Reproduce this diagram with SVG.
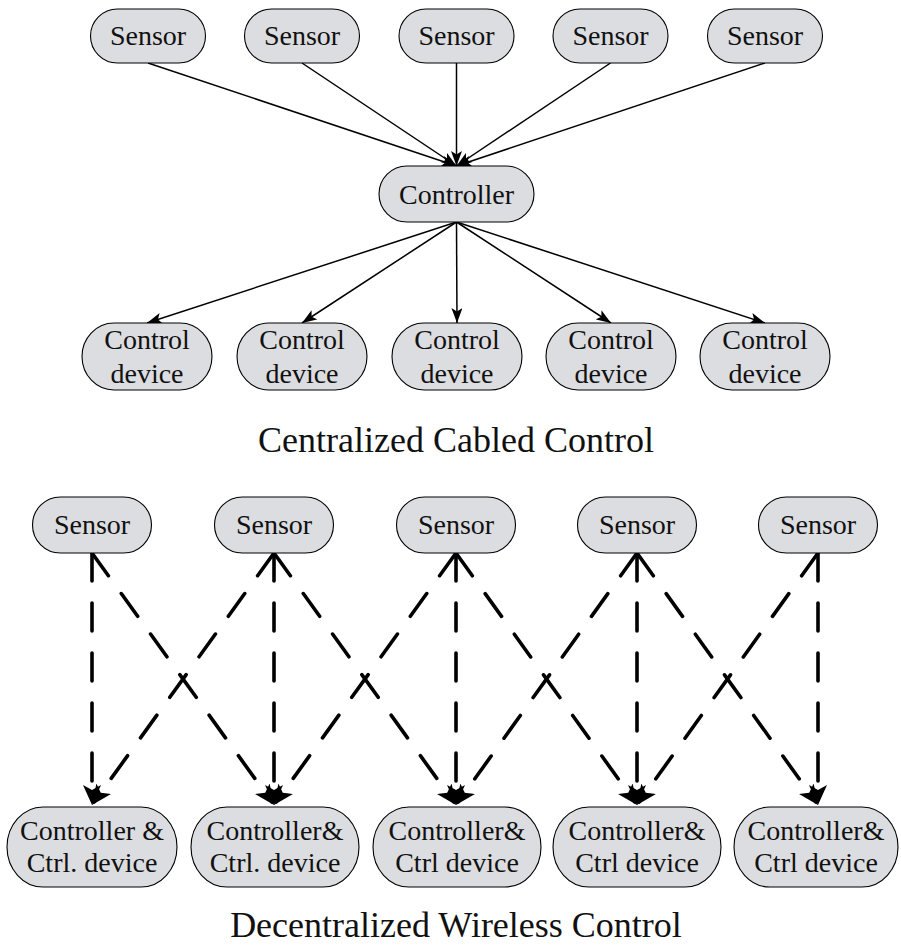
<svg xmlns="http://www.w3.org/2000/svg" width="901" height="951" viewBox="0 0 901 951">
<style>
.node{fill:#dcdde0;stroke:#000;stroke-width:1.1}
.t{font-family:"Liberation Serif","Times New Roman",serif;font-size:28px;text-anchor:middle;fill:#111}
.title{font-family:"Liberation Serif","Times New Roman",serif;font-size:36px;text-anchor:middle;fill:#111}
.thin{fill:none;stroke:#000;stroke-width:1.5}
.thick{fill:none;stroke:#000;stroke-width:3.6;stroke-dasharray:28 22;stroke-linecap:round}
</style>
<defs>
<marker id="ah" viewBox="0 0 15 11" refX="15" refY="5.5" markerWidth="15" markerHeight="11" markerUnits="userSpaceOnUse" orient="auto">
<path d="M0,0 L15,5.5 L0,11 L3.5,5.5 z" fill="#000" stroke="none"/>
</marker>
<marker id="ahb" viewBox="0 0 20 18" refX="16" refY="9" markerWidth="20" markerHeight="18" markerUnits="userSpaceOnUse" orient="auto">
<path d="M0,0 L20,9 L0,18 L5,9 z" fill="#000" stroke="none"/>
</marker>
</defs>
<g id="connectors">
<line class="thin" x1="148" y1="63" x2="456.5" y2="166" marker-end="url(#ah)"/>
<line class="thin" x1="302" y1="63" x2="456.5" y2="166" marker-end="url(#ah)"/>
<line class="thin" x1="456.5" y1="63" x2="456.5" y2="166" marker-end="url(#ah)"/>
<line class="thin" x1="610.5" y1="63" x2="456.5" y2="166" marker-end="url(#ah)"/>
<line class="thin" x1="765" y1="63" x2="456.5" y2="166" marker-end="url(#ah)"/>
<line class="thin" x1="456.5" y1="222" x2="147" y2="323" marker-end="url(#ah)"/>
<line class="thin" x1="456.5" y1="222" x2="302" y2="323" marker-end="url(#ah)"/>
<line class="thin" x1="456.5" y1="222" x2="457" y2="323" marker-end="url(#ah)"/>
<line class="thin" x1="456.5" y1="222" x2="611" y2="323" marker-end="url(#ah)"/>
<line class="thin" x1="456.5" y1="222" x2="765" y2="323" marker-end="url(#ah)"/>
<line class="thick" x1="92" y1="553" x2="92" y2="801" marker-end="url(#ahb)"/>
<line class="thick" x1="92" y1="553" x2="271.66" y2="801.76" marker-end="url(#ahb)"/>
<line class="thick" x1="274" y1="553" x2="94.34" y2="801.76" marker-end="url(#ahb)"/>
<line class="thick" x1="274" y1="553" x2="274" y2="801" marker-end="url(#ahb)"/>
<line class="thick" x1="274" y1="553" x2="453.66" y2="801.76" marker-end="url(#ahb)"/>
<line class="thick" x1="456" y1="553" x2="276.34" y2="801.76" marker-end="url(#ahb)"/>
<line class="thick" x1="456" y1="553" x2="456" y2="801" marker-end="url(#ahb)"/>
<line class="thick" x1="456" y1="553" x2="634.67" y2="801.75" marker-end="url(#ahb)"/>
<line class="thick" x1="637" y1="553" x2="458.33" y2="801.75" marker-end="url(#ahb)"/>
<line class="thick" x1="637" y1="553" x2="637" y2="801" marker-end="url(#ahb)"/>
<line class="thick" x1="637" y1="553" x2="815.67" y2="801.75" marker-end="url(#ahb)"/>
<line class="thick" x1="818" y1="553" x2="639.33" y2="801.75" marker-end="url(#ahb)"/>
<line class="thick" x1="818" y1="553" x2="818" y2="801" marker-end="url(#ahb)"/>
</g>
<g id="sensor1"><rect class="node" x="90.5" y="9" width="115" height="54" rx="27"/><text class="t" x="148" y="45">Sensor</text></g>
<g id="sensor2"><rect class="node" x="244.5" y="9" width="115" height="54" rx="27"/><text class="t" x="302" y="45">Sensor</text></g>
<g id="sensor3"><rect class="node" x="399" y="9" width="115" height="54" rx="27"/><text class="t" x="456.5" y="45">Sensor</text></g>
<g id="sensor4"><rect class="node" x="553" y="9" width="115" height="54" rx="27"/><text class="t" x="610.5" y="45">Sensor</text></g>
<g id="sensor5"><rect class="node" x="707.5" y="9" width="115" height="54" rx="27"/><text class="t" x="765" y="45">Sensor</text></g>
<g id="controller"><rect class="node" x="379" y="166" width="155" height="56" rx="28"/><text class="t" x="456.5" y="204">Controller</text></g>
<g id="device1"><rect class="node" x="82" y="323" width="130" height="67" rx="32" ry="33.5"/><text class="t" x="147" y="349">Control</text><text class="t" x="147" y="383">device</text></g>
<g id="device2"><rect class="node" x="237" y="323" width="130" height="67" rx="32" ry="33.5"/><text class="t" x="302" y="349">Control</text><text class="t" x="302" y="383">device</text></g>
<g id="device3"><rect class="node" x="392" y="323" width="130" height="67" rx="32" ry="33.5"/><text class="t" x="457" y="349">Control</text><text class="t" x="457" y="383">device</text></g>
<g id="device4"><rect class="node" x="546" y="323" width="130" height="67" rx="32" ry="33.5"/><text class="t" x="611" y="349">Control</text><text class="t" x="611" y="383">device</text></g>
<g id="device5"><rect class="node" x="700" y="323" width="130" height="67" rx="32" ry="33.5"/><text class="t" x="765" y="349">Control</text><text class="t" x="765" y="383">device</text></g>
<text class="title" x="456" y="452">Centralized Cabled Control</text>
<g id="wsensor1"><rect class="node" x="32.5" y="497" width="119" height="56" rx="28"/><text class="t" x="92" y="534">Sensor</text></g>
<g id="wsensor2"><rect class="node" x="214.5" y="497" width="119" height="56" rx="28"/><text class="t" x="274" y="534">Sensor</text></g>
<g id="wsensor3"><rect class="node" x="396.5" y="497" width="119" height="56" rx="28"/><text class="t" x="456" y="534">Sensor</text></g>
<g id="wsensor4"><rect class="node" x="577.5" y="497" width="119" height="56" rx="28"/><text class="t" x="637" y="534">Sensor</text></g>
<g id="wsensor5"><rect class="node" x="758.5" y="497" width="119" height="56" rx="28"/><text class="t" x="818" y="534">Sensor</text></g>
<g id="wdevice1"><rect class="node" x="7" y="807" width="170" height="80" rx="36" ry="40"/><text class="t" x="92" y="840">Controller &amp;</text><text class="t" x="92" y="872">Ctrl. device</text></g>
<g id="wdevice2"><rect class="node" x="191" y="807" width="168" height="80" rx="36" ry="40"/><text class="t" x="275" y="840">Controller&amp;</text><text class="t" x="275" y="872">Ctrl. device</text></g>
<g id="wdevice3"><rect class="node" x="373" y="807" width="168" height="80" rx="36" ry="40"/><text class="t" x="457" y="840">Controller&amp;</text><text class="t" x="457" y="872">Ctrl device</text></g>
<g id="wdevice4"><rect class="node" x="553" y="807" width="168" height="80" rx="36" ry="40"/><text class="t" x="637" y="840">Controller&amp;</text><text class="t" x="637" y="872">Ctrl device</text></g>
<g id="wdevice5"><rect class="node" x="734" y="807" width="164" height="80" rx="36" ry="40"/><text class="t" x="816" y="840">Controller&amp;</text><text class="t" x="816" y="872">Ctrl device</text></g>
<text class="title" x="456" y="937">Decentralized Wireless Control</text>
</svg>
